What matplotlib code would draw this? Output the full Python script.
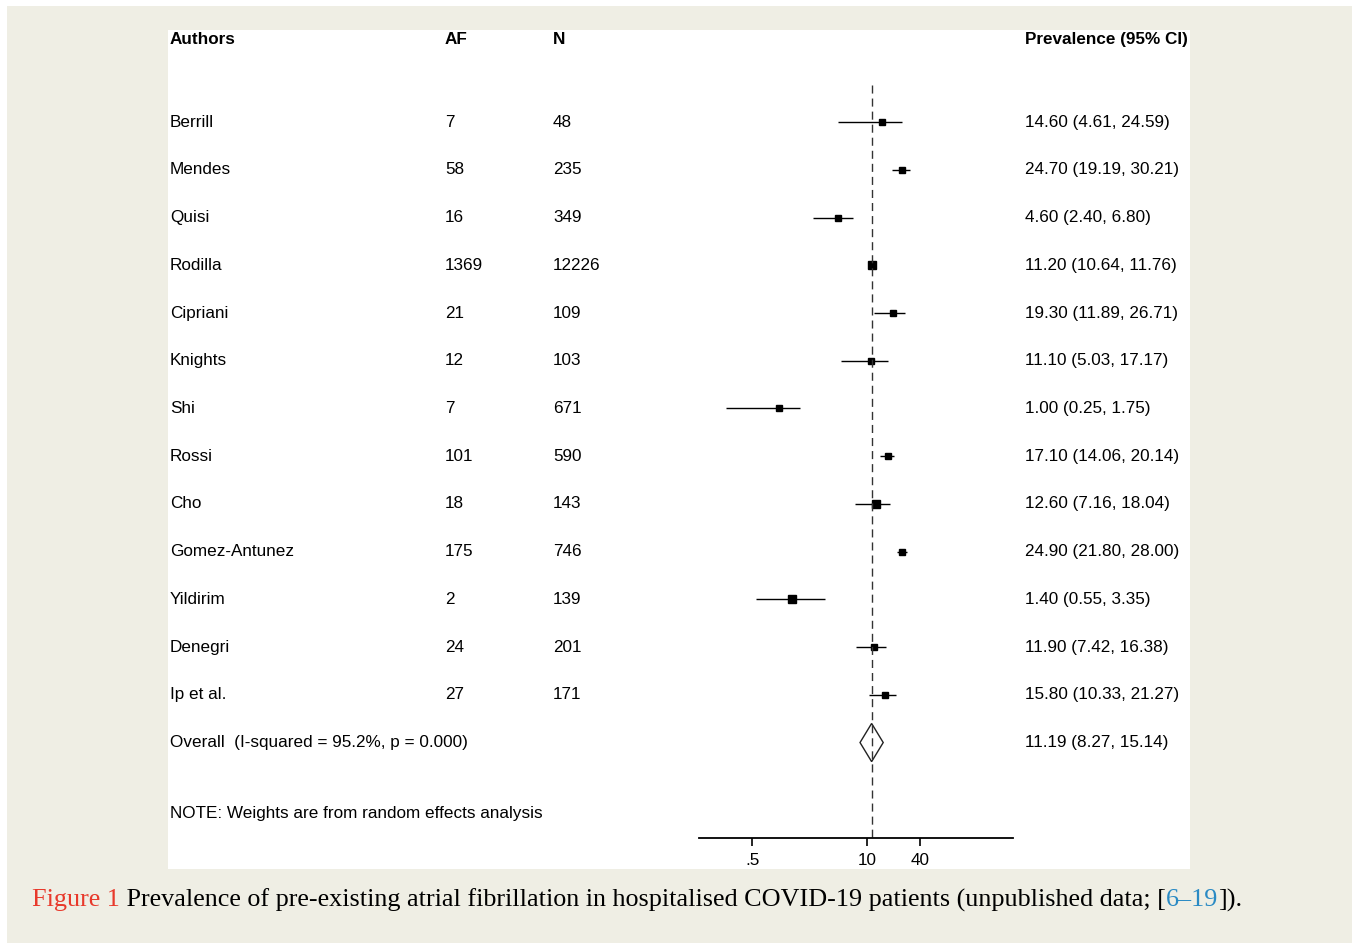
import numpy as np
import matplotlib
matplotlib.use("Agg")
import matplotlib.pyplot as plt
from matplotlib import transforms
from matplotlib.patches import Polygon, Rectangle

# study data
authors = ["Berrill", "Mendes", "Quisi", "Rodilla", "Cipriani", "Knights", "Shi",
           "Rossi", "Cho", "Gomez-Antunez", "Yildirim", "Denegri", "Ip et al."]
af = [7, 58, 16, 1369, 21, 12, 7, 101, 18, 175, 2, 24, 27]
n = [48, 235, 349, 12226, 109, 103, 671, 590, 143, 746, 139, 201, 171]
prev = [14.60, 24.70, 4.60, 11.20, 19.30, 11.10, 1.00, 17.10, 12.60, 24.90, 1.40, 11.90, 15.80]
lo = [4.61, 19.19, 2.40, 10.64, 11.89, 5.03, 0.25, 14.06, 7.16, 21.80, 0.55, 7.42, 10.33]
hi = [24.59, 30.21, 6.80, 11.76, 26.71, 17.17, 1.75, 20.14, 18.04, 28.00, 3.35, 16.38, 21.27]
weights = [6.8, 7.0, 7.2, 8.4, 7.0, 7.4, 7.0, 7.6, 9.0, 7.0, 8.6, 7.2, 7.8]

overall = (11.19, 8.27, 15.14)
overall_label = "Overall  (I-squared = 95.2%, p = 0.000)"
note = "NOTE: Weights are from random effects analysis"
xticks = [0.5, 10, 40]
xtick_labels = [".5", "10", "40"]

W, H = 1352, 943
plt.rcParams['font.family'] = ['Liberation Sans', 'DejaVu Sans']
fig = plt.figure(figsize=(W / 100, H / 100), dpi=100)
fig.patch.set_facecolor("white")


def fx(px):
    return px / W


def fy(py):
    return 1 - py / H


# page background and white panel
fig.add_artist(Rectangle((fx(7), 0), 1 - fx(7), fy(6), transform=fig.transFigure,
                         facecolor="#efeee4", edgecolor="none", zorder=-3))
fig.add_artist(Rectangle((fx(168), fy(869)), fx(1190 - 168), (869 - 30) / H,
                         transform=fig.transFigure, facecolor="white",
                         edgecolor="none", zorder=-2))

# forest axes: x from 699 to 1013 px, y from 30 to 838 px
ax = fig.add_axes([fx(699), fy(838), fx(1013 - 699), (838 - 30) / H])
ax.patch.set_visible(False)
ax.set_xscale("log")
ax.set_xlim(0.124, 447)
ax.set_ylim(15, -1.93)

rows = np.arange(len(authors))
ax.hlines(rows, lo, hi, color="black", lw=1.0)
sizes = [1.8 * np.sqrt(w) for w in weights]
for r, p, s in zip(rows, prev, sizes):
    ax.plot(p, r, marker="s", ms=s, color="black", mec="black", lw=0)

r_ov = len(authors)
est, olo, ohi = overall
diamond = Polygon([(olo, r_ov), (est, r_ov - 0.4), (ohi, r_ov), (est, r_ov + 0.4)],
                  closed=True, fill=False, edgecolor="#222222", lw=1.0)
ax.add_patch(diamond)
ax.plot([est, est], [-0.77, 15], color="#333333", lw=1.0, dashes=(5.8, 3.6))

for side in ["top", "right", "left"]:
    ax.spines[side].set_visible(False)
ax.spines["bottom"].set_linewidth(1.3)
ax.set_yticks([])
ax.set_xticks(xticks)
ax.set_xticklabels(xtick_labels)
ax.minorticks_off()
ax.tick_params(axis="x", which="major", length=6, width=1.2, labelsize=12.3, pad=5)
ax.tick_params(axis="x", which="minor", length=0)

# text columns
tr = transforms.blended_transform_factory(fig.transFigure, ax.transData)
fs = 12.3
header_y = -1.74
ax.text(fx(170), header_y, "Authors", transform=tr, fontsize=fs, fontweight="bold", va="center")
ax.text(fx(445), header_y, "AF", transform=tr, fontsize=fs, fontweight="bold", va="center")
ax.text(fx(553), header_y, "N", transform=tr, fontsize=fs, fontweight="bold", va="center")
ax.text(fx(1025), header_y, "Prevalence (95% CI)", transform=tr, fontsize=fs,
        fontweight="bold", va="center")

for r in rows:
    ax.text(fx(170), r, authors[r], transform=tr, fontsize=fs, va="center")
    ax.text(fx(445), r, str(af[r]), transform=tr, fontsize=fs, va="center")
    ax.text(fx(553), r, str(n[r]), transform=tr, fontsize=fs, va="center")
    ax.text(fx(1025), r, f"{prev[r]:.2f} ({lo[r]:.2f}, {hi[r]:.2f})", transform=tr,
            fontsize=fs, va="center")

ax.text(fx(170), r_ov, overall_label, transform=tr, fontsize=fs, va="center")
ax.text(fx(1025), r_ov, f"{est:.2f} ({olo:.2f}, {ohi:.2f})", transform=tr,
        fontsize=fs, va="center")
ax.text(fx(170), 14.49, note, transform=tr, fontsize=fs, va="center")

# caption
cap_fs = 18.8
cap_y = fy(900)
serif = ["Liberation Serif", "DejaVu Serif"]
t1 = fig.text(fx(32), cap_y, "Figure 1", color="#e8392b", fontsize=cap_fs,
              family=serif, va="center")
fig.canvas.draw()
renderer = fig.canvas.get_renderer()


def after(t, s, color="black"):
    bb = t.get_window_extent(renderer)
    return fig.text(bb.x1 / W, cap_y, s, color=color, fontsize=cap_fs, family=serif,
                    va="center")


t2 = after(t1, " Prevalence of pre-existing atrial fibrillation in hospitalised "
               "COVID-19 patients (unpublished data; [")
t3 = after(t2, "6\u201319", color="#2a8ac4")
after(t3, "]).")

fig.savefig("out.png", dpi=100)
